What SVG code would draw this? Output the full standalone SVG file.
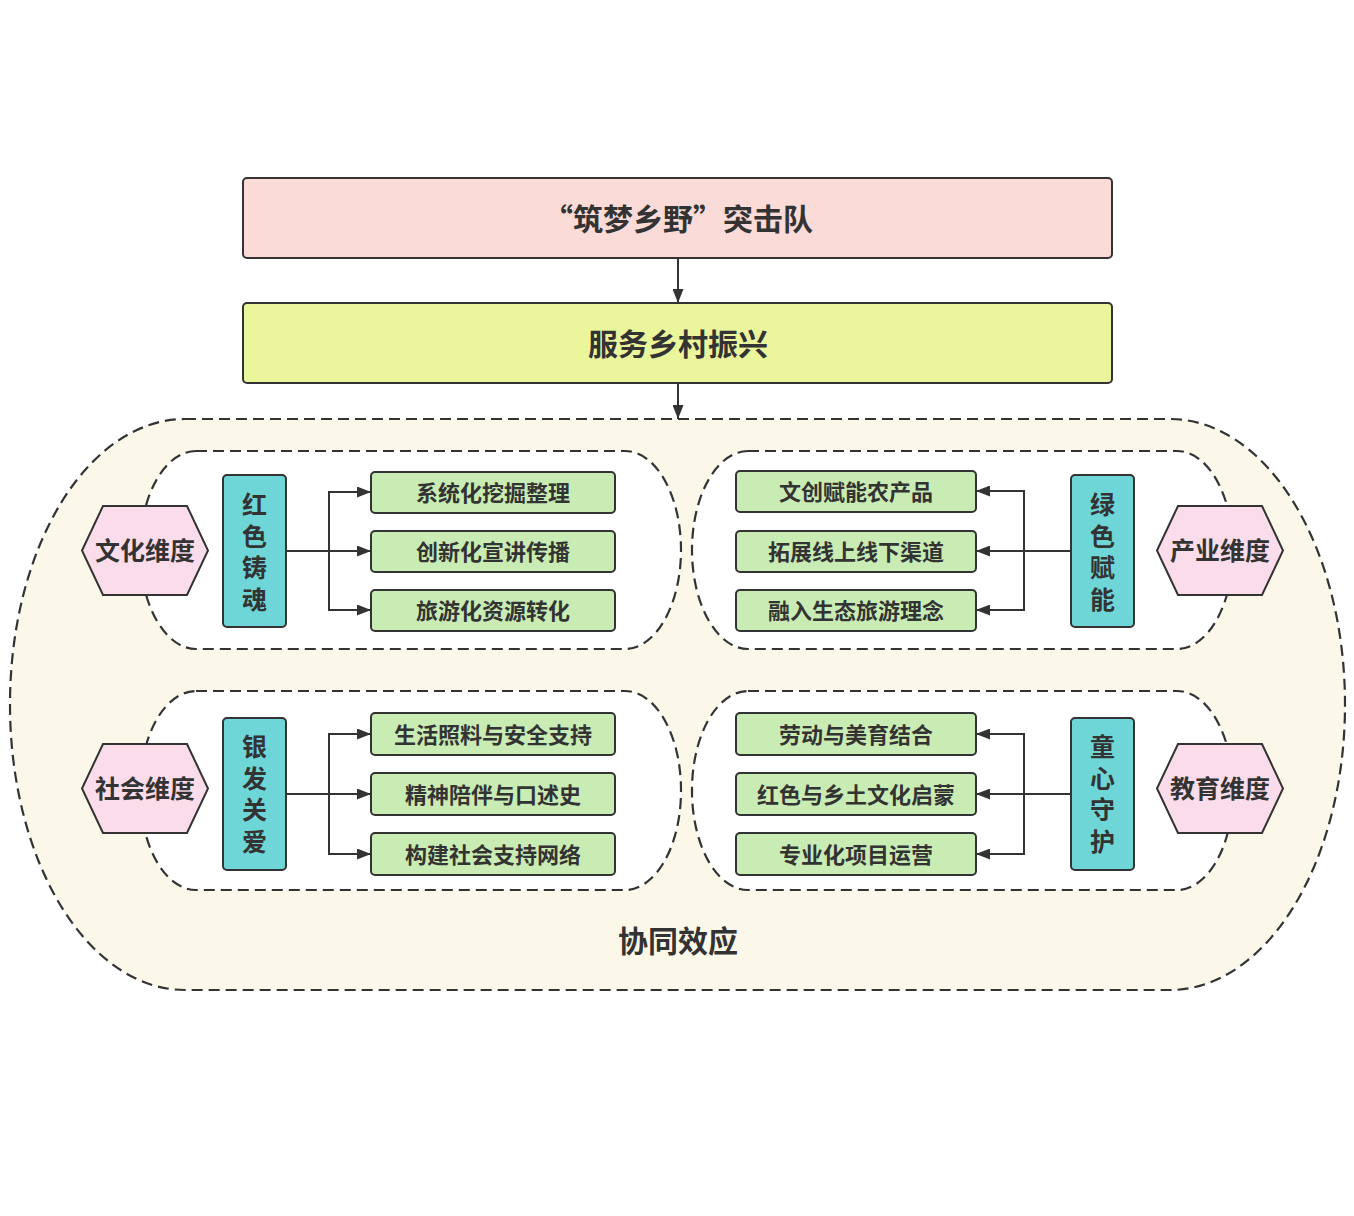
<svg xmlns="http://www.w3.org/2000/svg" width="1354" height="1216" viewBox="0 0 1354 1216">
<defs>
<marker id="arr" viewBox="0 0 14 11" refX="14" refY="5.5" markerWidth="14" markerHeight="11" markerUnits="userSpaceOnUse" orient="auto">
<path d="M0,0 L14,5.5 L0,11 z" fill="#333"/>
</marker>
<style>
text{font-family:"Noto Sans CJK SC","Noto Sans",sans-serif;font-weight:700;fill:#333;text-anchor:middle;dominant-baseline:central}
.dash{stroke:#333;stroke-width:2.2;stroke-dasharray:11 6}
.box{stroke:#333;stroke-width:2}
.green{fill:#c9ecb4}
.teal{fill:#6fd6d8}
.hex{fill:#fadcea;stroke:#333;stroke-width:2}
.gt{font-size:22px}
.ht{font-size:25px}
.vt{font-size:25px;writing-mode:vertical-rl;text-orientation:upright;letter-spacing:6.5px}
.conn{fill:none;stroke:#333;stroke-width:2}
</style>
</defs>
<rect width="1354" height="1216" fill="#ffffff"/>

<g id="outer">
<rect x="10" y="419" width="1335" height="571" rx="175" ry="285" fill="#fbf8e9" class="dash"/>
<text x="678" y="939" style="font-size:30px">协同效应</text>
</g>

<g id="group-culture"><rect x="140" y="451" width="541" height="198" rx="56" ry="99" fill="#ffffff" class="dash"/></g>
<g id="group-industry"><rect x="692" y="451" width="541" height="198" rx="56" ry="99" fill="#ffffff" class="dash"/></g>
<g id="group-society"><rect x="140" y="691" width="541" height="199" rx="56" ry="99" fill="#ffffff" class="dash"/></g>
<g id="group-education"><rect x="692" y="691" width="541" height="199" rx="56" ry="99" fill="#ffffff" class="dash"/></g>

<g id="connectors">
<line x1="678" y1="258" x2="678" y2="303" class="conn" marker-end="url(#arr)"/>
<line x1="678" y1="383" x2="678" y2="419" class="conn" marker-end="url(#arr)"/>
<line x1="286" y1="551" x2="371" y2="551" class="conn" marker-end="url(#arr)"/>
<polyline points="329,551 329,492 371,492" class="conn" marker-end="url(#arr)"/>
<polyline points="329,551 329,610 371,610" class="conn" marker-end="url(#arr)"/>
<line x1="1071" y1="551" x2="976" y2="551" class="conn" marker-end="url(#arr)"/>
<polyline points="1024,551 1024,491 976,491" class="conn" marker-end="url(#arr)"/>
<polyline points="1024,551 1024,610 976,610" class="conn" marker-end="url(#arr)"/>
<line x1="286" y1="794" x2="371" y2="794" class="conn" marker-end="url(#arr)"/>
<polyline points="329,794 329,734 371,734" class="conn" marker-end="url(#arr)"/>
<polyline points="329,794 329,854 371,854" class="conn" marker-end="url(#arr)"/>
<line x1="1071" y1="794" x2="976" y2="794" class="conn" marker-end="url(#arr)"/>
<polyline points="1024,794 1024,734 976,734" class="conn" marker-end="url(#arr)"/>
<polyline points="1024,794 1024,854 976,854" class="conn" marker-end="url(#arr)"/>
</g>

<g id="team">
<rect x="243" y="178" width="869" height="80" rx="4" fill="#fadbd8" class="box"/>
<text x="678" y="217" style="font-size:30px">“筑梦乡野”突击队</text>
</g>
<g id="serve">
<rect x="243" y="303" width="869" height="80" rx="4" fill="#eaf59c" class="box"/>
<text x="678" y="342" style="font-size:30px">服务乡村振兴</text>
</g>

<g id="dim-culture">
<polygon points="82,550.5 103,506 187,506 208,550.5 187,595 103,595" class="hex"/>
<text x="145" y="548.5" class="ht">文化维度</text>
</g>
<g id="dim-industry">
<polygon points="1157,550.5 1178,506 1262,506 1283,550.5 1262,595 1178,595" class="hex"/>
<text x="1220" y="548.5" class="ht">产业维度</text>
</g>
<g id="dim-society">
<polygon points="82,788.5 103,744 187,744 208,788.5 187,833 103,833" class="hex"/>
<text x="145" y="786.5" class="ht">社会维度</text>
</g>
<g id="dim-education">
<polygon points="1157,788.5 1178,744 1262,744 1283,788.5 1262,833 1178,833" class="hex"/>
<text x="1220" y="786.5" class="ht">教育维度</text>
</g>

<g id="core-red">
<rect x="223" y="475" width="63" height="152" rx="4" class="box teal"/>
<text x="254.5" y="555" class="vt">红色铸魂</text>
</g>
<g id="core-green">
<rect x="1071" y="475" width="63" height="152" rx="4" class="box teal"/>
<text x="1102.5" y="555" class="vt">绿色赋能</text>
</g>
<g id="core-silver">
<rect x="223" y="718" width="63" height="152" rx="4" class="box teal"/>
<text x="254.5" y="797" class="vt">银发关爱</text>
</g>
<g id="core-child">
<rect x="1071" y="718" width="63" height="152" rx="4" class="box teal"/>
<text x="1102.5" y="797" class="vt">童心守护</text>
</g>

<g id="c1"><rect x="371" y="472" width="244" height="41" rx="4" class="box green"/><text x="493" y="491" class="gt">系统化挖掘整理</text></g>
<g id="c2"><rect x="371" y="531" width="244" height="41" rx="4" class="box green"/><text x="493" y="550" class="gt">创新化宣讲传播</text></g>
<g id="c3"><rect x="371" y="590" width="244" height="41" rx="4" class="box green"/><text x="493" y="609" class="gt">旅游化资源转化</text></g>

<g id="i1"><rect x="736" y="471" width="240" height="41" rx="4" class="box green"/><text x="856" y="490" class="gt">文创赋能农产品</text></g>
<g id="i2"><rect x="736" y="531" width="240" height="41" rx="4" class="box green"/><text x="856" y="550" class="gt">拓展线上线下渠道</text></g>
<g id="i3"><rect x="736" y="590" width="240" height="41" rx="4" class="box green"/><text x="856" y="609" class="gt">融入生态旅游理念</text></g>

<g id="s1"><rect x="371" y="713" width="244" height="42" rx="4" class="box green"/><text x="493" y="732.5" class="gt">生活照料与安全支持</text></g>
<g id="s2"><rect x="371" y="773" width="244" height="42" rx="4" class="box green"/><text x="493" y="792.5" class="gt">精神陪伴与口述史</text></g>
<g id="s3"><rect x="371" y="833" width="244" height="42" rx="4" class="box green"/><text x="493" y="852.5" class="gt">构建社会支持网络</text></g>

<g id="e1"><rect x="736" y="713" width="240" height="42" rx="4" class="box green"/><text x="856" y="732.5" class="gt">劳动与美育结合</text></g>
<g id="e2"><rect x="736" y="773" width="240" height="42" rx="4" class="box green"/><text x="856" y="792.5" class="gt">红色与乡土文化启蒙</text></g>
<g id="e3"><rect x="736" y="833" width="240" height="42" rx="4" class="box green"/><text x="856" y="852.5" class="gt">专业化项目运营</text></g>
</svg>
